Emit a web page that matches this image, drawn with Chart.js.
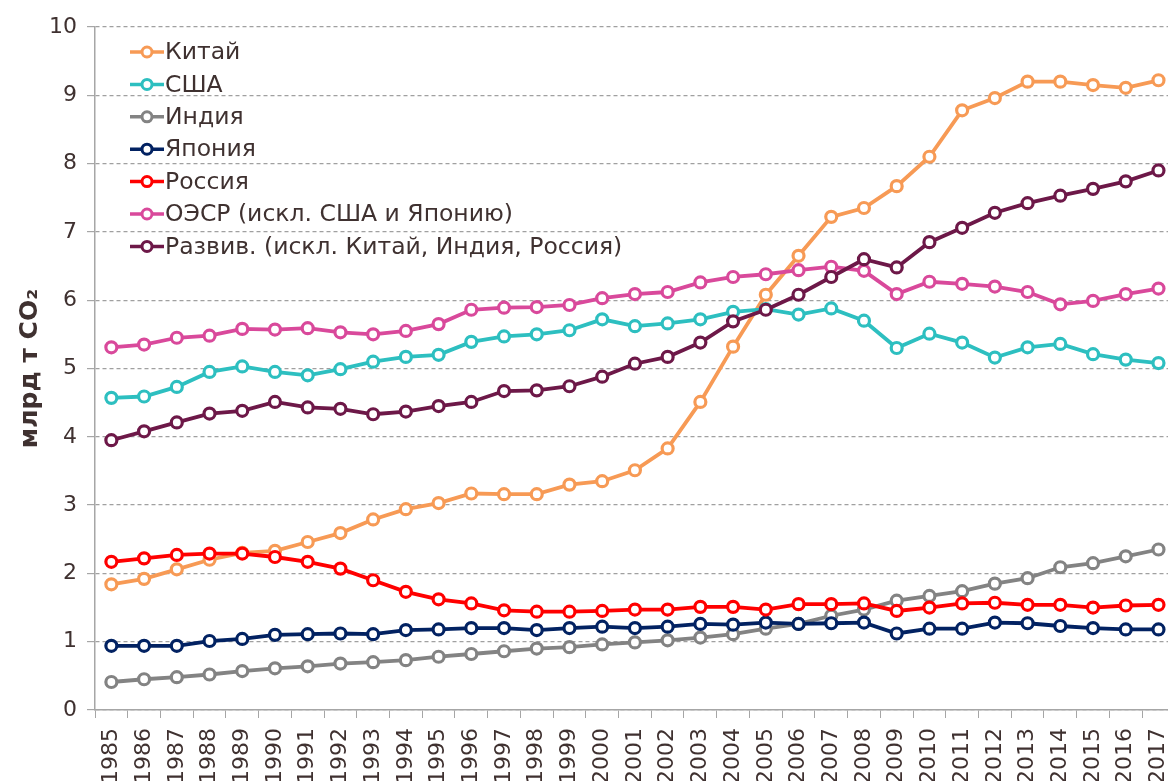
<!DOCTYPE html>
<html>
<head>
<meta charset="utf-8">
<script src="https://cdn.jsdelivr.net/npm/chart.js@4"></script>
<style>
  html, body { margin: 0; padding: 0; background: #fff; overflow: hidden; }
  #wrap { position: relative; width: 1195px; height: 781px; }
</style>
</head>
<body>
<div id="wrap"><canvas id="co2Chart"></canvas></div>
<script>
const years = ['1985','1986','1987','1988','1989','1990','1991','1992','1993','1994','1995','1996',
  '1997','1998','1999','2000','2001','2002','2003','2004','2005','2006','2007','2008','2009','2010',
  '2011','2012','2013','2014','2015','2016','2017'];

const china = [1.84,1.92,2.06,2.20,2.30,2.33,2.46,2.59,2.79,2.94,3.03,3.17,3.16,3.16,3.30,3.35,3.51,
  3.83,4.51,5.32,6.08,6.65,7.22,7.35,7.67,8.10,8.78,8.96,9.20,9.20,9.15,9.11,9.22];
const usa = [4.57,4.59,4.73,4.95,5.03,4.95,4.90,4.99,5.10,5.17,5.20,5.39,5.47,5.50,5.56,5.72,5.62,
  5.66,5.72,5.83,5.87,5.79,5.88,5.70,5.30,5.51,5.38,5.16,5.31,5.36,5.21,5.13,5.08];
const india = [0.41,0.45,0.48,0.52,0.57,0.61,0.64,0.68,0.70,0.73,0.78,0.82,0.86,0.90,0.92,0.96,0.99,
  1.02,1.06,1.11,1.19,1.26,1.38,1.47,1.60,1.67,1.74,1.85,1.93,2.09,2.15,2.25,2.35];
const japan = [0.94,0.94,0.94,1.01,1.04,1.10,1.11,1.12,1.11,1.17,1.18,1.20,1.20,1.17,1.20,1.22,1.20,
  1.22,1.26,1.25,1.28,1.26,1.27,1.28,1.12,1.19,1.19,1.28,1.27,1.23,1.20,1.18,1.18];
const russia = [2.17,2.22,2.27,2.29,2.29,2.24,2.17,2.07,1.90,1.73,1.62,1.56,1.46,1.44,1.44,1.45,1.47,
  1.47,1.51,1.51,1.47,1.55,1.55,1.56,1.45,1.50,1.56,1.57,1.54,1.54,1.50,1.53,1.54];
const oecd = [5.31,5.35,5.45,5.48,5.58,5.57,5.59,5.53,5.50,5.55,5.65,5.86,5.89,5.90,5.93,6.03,6.09,
  6.12,6.26,6.34,6.38,6.44,6.49,6.43,6.09,6.27,6.24,6.20,6.12,5.94,5.99,6.09,6.17];
const developing = [3.95,4.08,4.21,4.34,4.38,4.51,4.43,4.41,4.33,4.37,4.45,4.51,4.67,4.68,4.74,4.88,5.07,
  5.17,5.38,5.69,5.86,6.08,6.34,6.60,6.48,6.85,7.06,7.28,7.42,7.53,7.63,7.74,7.90];

const seriesNames = ['Китай', 'США', 'Индия', 'Япония', 'Россия',
  'ОЭСР (искл. США и Японию)', 'Развив. (искл. Китай, Индия, Россия)'];
const seriesColors = ['#F79A55', '#2DBFC0', '#838383', '#022262', '#FF0000', '#D9499B', '#6D1848'];
const seriesData = [china, usa, india, japan, russia, oecd, developing];

const textColor = '#3F3130';
const axisGray = '#A6A6A6';
const fontFamily = '"DejaVu Sans", Verdana, sans-serif';

// legend drawn inside the plot, stacked top-left
const innerLegend = {
  id: 'innerLegend',
  afterDraw(chart) {
    const ctx = chart.ctx;
    ctx.save();
    ctx.font = '23.5px ' + fontFamily;
    ctx.textBaseline = 'middle';
    chart.data.datasets.forEach((ds, i) => {
      const y = 52 + i * 32.4;
      ctx.strokeStyle = ds.borderColor;
      ctx.lineWidth = 3.5;
      ctx.beginPath();
      ctx.moveTo(130, y);
      ctx.lineTo(164, y);
      ctx.stroke();
      ctx.beginPath();
      ctx.arc(147, y, 5, 0, Math.PI * 2);
      ctx.fillStyle = '#fff';
      ctx.fill();
      ctx.lineWidth = 3;
      ctx.stroke();
      ctx.fillStyle = textColor;
      ctx.fillText(ds.label, 165, y + 1);
    });
    ctx.restore();
  }
};

const ctx = document.getElementById('co2Chart').getContext('2d');
const co2Chart = new Chart(ctx, {
  type: 'line',
  data: {
    labels: years,
    datasets: seriesData.map((d, i) => ({
      label: seriesNames[i],
      data: d,
      borderColor: seriesColors[i],
      backgroundColor: seriesColors[i],
      borderWidth: 3.8,
      pointRadius: 5.5,
      pointBorderWidth: 3.2,
      pointBackgroundColor: '#fff',
      pointBorderColor: seriesColors[i],
      tension: 0,
      order: seriesData.length - i
    }))
  },
  options: {
    responsive: true,
    maintainAspectRatio: false,
    animation: false,
    layout: { padding: { top: 27, right: 0, left: 0, bottom: 0 } },
    scales: {
      x: {
        type: 'category',
        offset: true,
        grid: { offset: true, drawOnChartArea: false, drawTicks: true, tickLength: 8, color: axisGray },
        border: { color: axisGray, width: 1.5 },
        ticks: {
          color: textColor,
          font: { family: fontFamily, size: 22 },
          minRotation: 90,
          maxRotation: 90,
          autoSkip: false,
          padding: 10
        },
        afterFit(scale) { scale.height = 71; }
      },
      y: {
        min: 0,
        max: 10,
        ticks: {
          stepSize: 1,
          color: textColor,
          font: { family: fontFamily, size: 22 },
          padding: 10
        },
        grid: { color: '#A0A0A0', lineWidth: 1.2, tickLength: 8, tickColor: axisGray, tickBorderDash: [] },
        border: { color: axisGray, width: 1.5, dash: [4, 3] },
        title: {
          display: true,
          text: 'млрд т CO₂',
          color: textColor,
          font: { family: fontFamily, size: 25, weight: 'bold' },
          padding: { top: 15, bottom: 0 }
        },
        afterFit(scale) { scale.width = 95; }
      }
    },
    plugins: {
      legend: { display: false },
      tooltip: { enabled: false }
    }
  },
  plugins: [innerLegend]
});
</script>
</body>
</html>
